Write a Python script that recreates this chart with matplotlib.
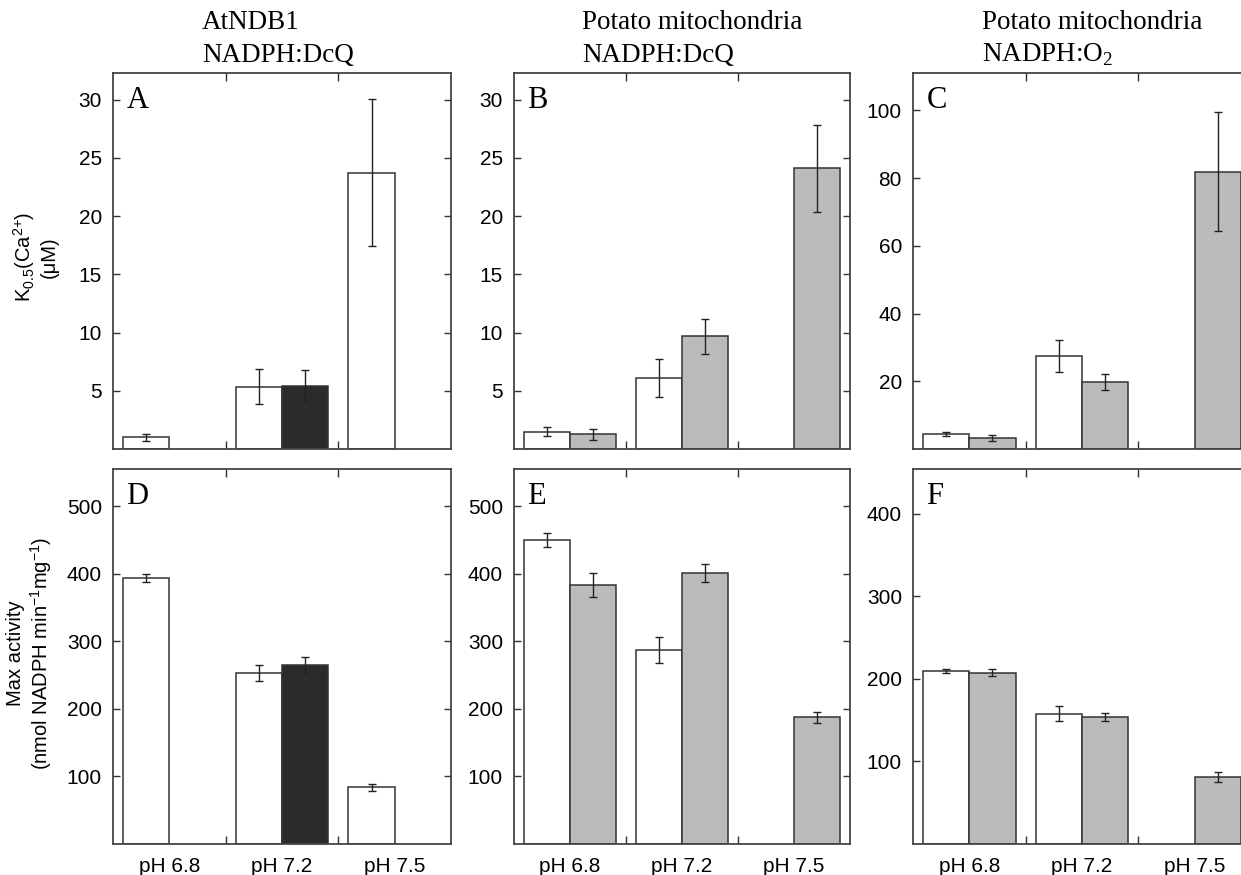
import matplotlib
matplotlib.use("Agg")
import matplotlib.pyplot as plt

plt.rcParams['font.family'] = ['Liberation Sans', 'DejaVu Sans']

ph_labels = ['pH 6.8', 'pH 7.2', 'pH 7.5']

# K0.5(Ca2+) in uM, top row
a_white = [1.0, 5.35, 23.75]
a_white_err = [0.33, 1.5, 6.3]
a_dark = [None, 5.45, None]
a_dark_err = [None, 1.3, None]

b_white = [1.5, 6.1, None]
b_white_err = [0.36, 1.6, None]
b_gray = [1.25, 9.7, 24.1]
b_gray_err = [0.5, 1.5, 3.75]

c_white = [4.4, 27.5, None]
c_white_err = [0.5, 4.8, None]
c_gray = [3.2, 19.7, 81.9]
c_gray_err = [0.8, 2.3, 17.6]

# max activity, bottom row
d_white = [394, 253.5, 84]
d_white_err = [6, 12, 5]
d_dark = [None, 265, None]
d_dark_err = [None, 12, None]

e_white = [450, 287, None]
e_white_err = [11, 19, None]
e_gray = [383, 401, 187.5]
e_gray_err = [18, 13, 8]

f_white = [209, 157.5, None]
f_white_err = [2.5, 9, None]
f_gray = [207.5, 154, 81]
f_gray_err = [4, 4.5, 6]

W, H = 1241, 875
fig = plt.figure(figsize=(W / 100, H / 100), dpi=100)

BW = 0.41
EDGE = '#333333'


def px_axes(left, top, right, bottom):
    return fig.add_axes([left / W, 1 - bottom / H, (right - left) / W, (bottom - top) / H])


def draw_bars(ax, vals, errs, offset, color):
    for i in range(len(vals)):
        if vals[i] is None:
            continue
        ax.bar(i + offset, vals[i], BW, color=color, edgecolor=EDGE, linewidth=1.1, zorder=2)
        ax.errorbar(i + offset, vals[i], yerr=errs[i], fmt='none', ecolor='#222222',
                    elinewidth=1, capsize=3, capthick=1, zorder=3)


def style(ax, letter, ylim, yticks, bottom_row):
    ax.set_xlim(-0.5, 2.5)
    ax.set_ylim(*ylim)
    ax.set_yticks(yticks)
    ax.set_xticks([0, 1, 2])
    ax.set_xticks([0.5, 1.5], minor=True)
    ax.tick_params(axis='x', which='major', length=0, pad=9, labelsize=15)
    ax.tick_params(axis='x', which='minor', direction='in', length=6, top=True, bottom=True,
                   width=1, color='#333333')
    ax.tick_params(axis='y', direction='in', length=5, left=True, right=True, pad=8,
                   labelsize=15, width=1, color='#333333')
    if bottom_row:
        ax.set_xticklabels(ph_labels)
    else:
        ax.set_xticklabels([])
    for s in ax.spines.values():
        s.set_color('#444444')
        s.set_linewidth(1.3)
    ax.text(0.04, 0.965, letter, transform=ax.transAxes, ha='left', va='top',
            fontsize=22, family=['Liberation Serif'])


ax_a = px_axes(113, 73, 451, 449)
draw_bars(ax_a, a_white, a_white_err, -0.205, 'white')
draw_bars(ax_a, a_dark, a_dark_err, 0.205, '#2b2b2b')
style(ax_a, 'A', (0, 32.3), [5, 10, 15, 20, 25, 30], False)

ax_b = px_axes(514, 73, 850, 449)
draw_bars(ax_b, b_white, b_white_err, -0.205, 'white')
draw_bars(ax_b, b_gray, b_gray_err, 0.205, '#bbbbbb')
style(ax_b, 'B', (0, 32.3), [5, 10, 15, 20, 25, 30], False)

ax_c = px_axes(913, 73, 1251, 449)
draw_bars(ax_c, c_white, c_white_err, -0.205, 'white')
draw_bars(ax_c, c_gray, c_gray_err, 0.205, '#bbbbbb')
style(ax_c, 'C', (0, 111), [20, 40, 60, 80, 100], False)

ax_d = px_axes(113, 469, 451, 844)
draw_bars(ax_d, d_white, d_white_err, -0.205, 'white')
draw_bars(ax_d, d_dark, d_dark_err, 0.205, '#2b2b2b')
style(ax_d, 'D', (0, 555), [100, 200, 300, 400, 500], True)

ax_e = px_axes(514, 469, 850, 844)
draw_bars(ax_e, e_white, e_white_err, -0.205, 'white')
draw_bars(ax_e, e_gray, e_gray_err, 0.205, '#bbbbbb')
style(ax_e, 'E', (0, 555), [100, 200, 300, 400, 500], True)

ax_f = px_axes(913, 469, 1251, 844)
draw_bars(ax_f, f_white, f_white_err, -0.205, 'white')
draw_bars(ax_f, f_gray, f_gray_err, 0.205, '#bbbbbb')
style(ax_f, 'F', (0, 454), [100, 200, 300, 400], True)

# column titles
serif = ['Liberation Serif', 'DejaVu Serif']
titles = [(202, 'AtNDB1', 'NADPH:DcQ'),
          (582, 'Potato mitochondria', 'NADPH:DcQ'),
          (982, 'Potato mitochondria', r'NADPH:O$_\mathregular{2}$')]
for x, l1, l2 in titles:
    fig.text(x / W, 1 - 29 / H, l1, ha='left', va='baseline', fontsize=19.5, family=serif)
    fig.text(x / W, 1 - 62 / H, l2, ha='left', va='baseline', fontsize=19.5, family=serif)

# y labels
fig.text(35 / W, 1 - 257 / H, 'K$_\\mathregular{0.5}$(Ca$^\\mathregular{2{+}}$)\n(\u03bcM)',
         rotation=90, ha='center', va='center', multialignment='center', fontsize=14.5)
fig.text(30 / W, 1 - 653 / H,
         'Max activity\n(nmol NADPH min$^\\mathregular{-1}$mg$^\\mathregular{-1}$)',
         rotation=90, ha='center', va='center', multialignment='center', fontsize=14.5)

fig.savefig('out.png', dpi=100)
